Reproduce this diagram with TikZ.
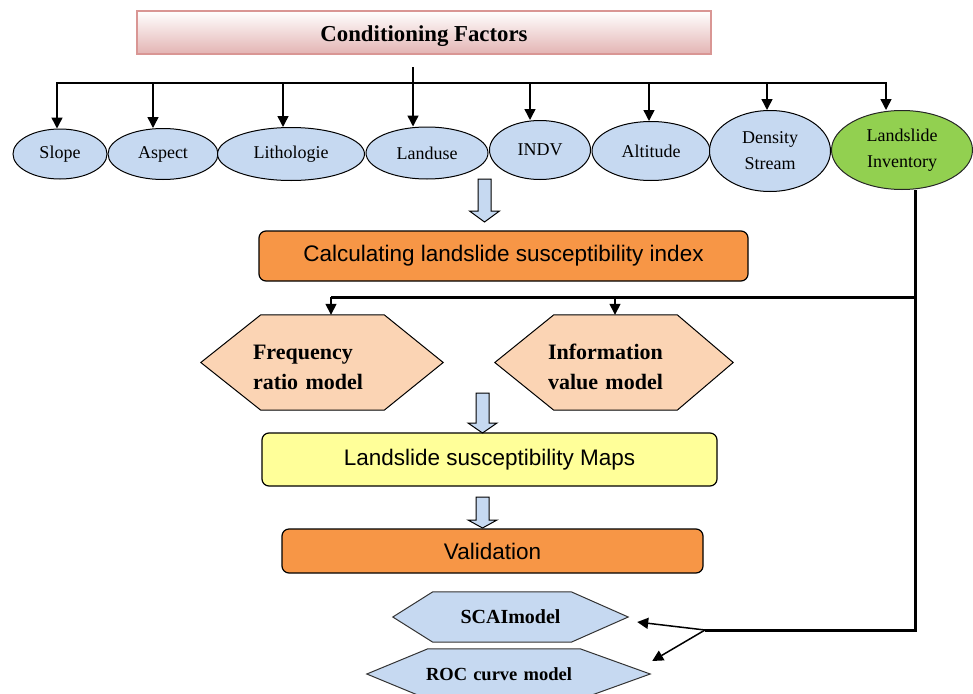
\documentclass[tikz,border=0pt]{standalone}
\usepackage{fontspec}
\setmainfont{Liberation Serif}
\setsansfont{Liberation Sans}
\usetikzlibrary{shapes.geometric}
\usetikzlibrary{arrows.meta}
\usetikzlibrary{calc}
\usetikzlibrary{backgrounds}

\definecolor{factorblue}{HTML}{C6D9F1}
\definecolor{invgreen}{HTML}{92D050}
\definecolor{titlepink}{HTML}{E3B4B3}
\definecolor{titleline}{HTML}{D99694}
\definecolor{calcorange}{HTML}{F79646}
\definecolor{mapyellow}{HTML}{FFFF99}
\definecolor{modelpeach}{HTML}{FBD4B4}

\tikzset{
	factor/.style={ellipse, draw, line width=1pt, fill=factorblue, inner sep=0pt, align=center, font=\fontsize{18}{26}\selectfont},
	titlebox/.style={rectangle, draw=titleline, line width=2pt, top color=white, bottom color=titlepink, minimum width=574pt, minimum height=43pt, text height=24pt, font=\bfseries\fontsize{22.8}{26}\selectfont},
	stepbox/.style={rectangle, rounded corners=7pt, draw, line width=1.2pt, inner sep=0pt, font=\sffamily\fontsize{22.5}{27}\selectfont},
	model/.style={rectangle, inner sep=0pt, align=left, font=\bfseries\fontsize{22}{30}\selectfont},
	hexpeach/.style={draw, line width=1pt, fill=modelpeach},
	hexblue/.style={draw=black!80, line width=1pt, fill=factorblue},
	feed/.style={line width=1.5pt, -{Triangle[width=11pt,length=11pt]}},
	busline/.style={line width=3pt},
	blockarrow/.style={draw, line width=1pt, fill=factorblue, line join=miter},
}

% hexagon behind a node: style, node, left cut, right cut
\newcommand{\hexback}[4]{%
	\begin{pgfonlayer}{background}
	\draw[#1] (#2.west) -- ([xshift=#3pt]#2.north west) -- ([xshift=-#4pt]#2.north east) -- (#2.east)
		-- ([xshift=-#4pt]#2.south east) -- ([xshift=#3pt]#2.south west) -- cycle;
	\end{pgfonlayer}}

\begin{document}
\begin{tikzpicture}[x=1pt,y=-1pt]
\useasboundingbox (0,0) rectangle (973,693);

\node[titlebox] (title) at (424,32.5) {Conditioning Factors};

% factors
\node[factor, minimum width=94pt, minimum height=50pt] (slope) at (60,154) {Slope};
\node[factor, minimum width=110pt, minimum height=51pt] (aspect) at (163,154) {Aspect};
\node[factor, minimum width=147pt, minimum height=53pt] (litho) at (291,154) {Lithologie};
\node[factor, minimum width=122pt, minimum height=52pt] (landuse) at (427,153) {Landuse};
\node[factor, minimum width=101pt, minimum height=59pt] (indv) at (540,150) {INDV};
\node[factor, minimum width=118pt, minimum height=59pt] (alti) at (651,151) {Altitude};
\node[factor, minimum width=121pt, minimum height=81pt] (dens) at (770,151) {Density\\Stream};
\node[factor, fill=invgreen, draw=black!85, minimum width=141pt, minimum height=79pt] (inv) at (902,150) {Landslide\\Inventory};

\coordinate (top) at (413,67);
\coordinate (busl) at (57,83);
\coordinate (busr) at (886,83);
\draw[line width=1.5pt, line cap=rect] (busl) -- (busr);
\draw[feed] (top) -- (top |- landuse.north);
\foreach \n/\x in {slope/57, aspect/153, litho/283, indv/530, alti/649, dens/767, inv/886}{
	\coordinate (c\n) at (\x,83);
	\draw[feed] (c\n) -- (c\n |- \n.north);
}

% steps
\node[stepbox, fill=calcorange, minimum width=489pt, minimum height=50pt] (calc) at (503.5,256) {Calculating landslide susceptibility index};
\node[stepbox, fill=mapyellow, minimum width=455pt, minimum height=53pt] (maps) at (489.5,459.5) {Landslide susceptibility Maps};
\node[stepbox, fill=calcorange, minimum width=421pt, minimum height=44pt] (valid) at (492.5,551) {Validation};

\foreach \x/\t/\h/\e/\w in {484.5/179/211/222/15, 482.5/393/423/433/14.5, 482.5/497/520/528/14.5}
	\draw[blockarrow] ({\x-6.5},\t) -- ({\x+6.5},\t) -- ({\x+6.5},\h) -- ({\x+\w},\h) -- (\x,\e)
		-- ({\x-\w},\h) -- ({\x-6.5},\h) -- cycle;

% models
\node[model, text width=138pt, text height=25pt, minimum width=242pt, minimum height=95pt] (freq) at (322,362.5) {Frequency\\ratio model};
\hexback{hexpeach}{freq}{60}{59}
\node[model, text width=132pt, text height=25pt, minimum width=238pt, minimum height=95pt] (info) at (614,362.5) {Information\\value model};
\hexback{hexpeach}{info}{59}{56}
\node[model, align=center, font=\bfseries\fontsize{20}{24}\selectfont, minimum width=235pt, minimum height=50pt] (scai) at (510.5,617) {SCAImodel};
\hexback{hexblue}{scai}{40}{57}
\node[model, text width=165pt, font=\bfseries\fontsize{18.5}{24}\selectfont, minimum width=283pt, minimum height=50pt] (roc) at (508.5,674) {ROC curve model};
\hexback{hexblue}{roc}{61}{70}

% inventory feed
\coordinate (br) at (915,297);
\coordinate (fa) at (331,297);
\coordinate (ia) at (615,297);
\coordinate (jn) at (705,630);
\draw[busline] (inv.south -| br) |- (jn);
\draw[busline] (br) -- (fa);
\draw[feed] (fa) -- (fa |- freq.north);
\draw[feed] (ia) -- (ia |- info.north);
\draw[feed] (jn) -- ($(scai.east)+(9,5)$);
\draw[feed] (jn) -- ($(roc.east)+(2,-13)$);
\end{tikzpicture}
\end{document}
